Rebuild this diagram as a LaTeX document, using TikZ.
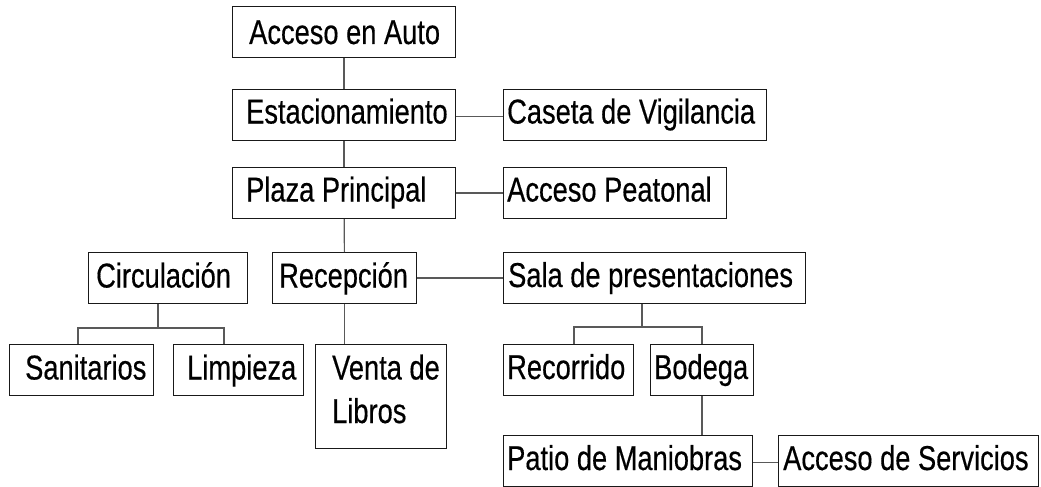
\documentclass[tikz,border=0pt]{standalone}
\usepackage{fontspec}
\setmainfont{Liberation Sans}[FakeStretch=0.79,FakeBold=0.4]
\usetikzlibrary{calc}
\tikzset{
  box/.style={draw=black!90, line width=1.1pt, rectangle, inner sep=0pt, anchor=north west},
  lbl/.style={inner sep=0pt, anchor=base west, font=\fontsize{34.5}{43.3}\selectfont, text=black},
  link/.style={draw=black!65, line width=1.2pt}
}
\begin{document}
\begin{tikzpicture}[x=1pt,y=-1pt]
\useasboundingbox (0,0) rectangle (1041,487);
% boxes
\node[box, minimum width=223pt, minimum height=51pt] (auto) at (232,6) {};
\node[box, minimum width=223pt, minimum height=51pt] (estac) at (232,89) {};
\node[box, minimum width=223pt, minimum height=51pt] (plaza) at (232,167) {};
\node[box, minimum width=263pt, minimum height=51pt] (caseta) at (503,89) {};
\node[box, minimum width=223pt, minimum height=51pt] (peatonal) at (503,167) {};
\node[box, minimum width=159pt, minimum height=51pt] (circ) at (88,252) {};
\node[box, minimum width=144pt, minimum height=51pt] (recep) at (272,252) {};
\node[box, minimum width=302pt, minimum height=51pt] (sala) at (503,252) {};
\node[box, minimum width=144pt, minimum height=51pt] (sanit) at (9,344) {};
\node[box, minimum width=130pt, minimum height=51pt] (limp) at (173,344) {};
\node[box, minimum width=131pt, minimum height=104pt] (venta) at (315,344) {};
\node[box, minimum width=130pt, minimum height=51pt] (recorr) at (503,344) {};
\node[box, minimum width=103pt, minimum height=51pt] (bodega) at (650,344) {};
\node[box, minimum width=249pt, minimum height=51pt] (patio) at (503,435) {};
\node[box, minimum width=260pt, minimum height=51pt] (servic) at (778,435) {};
% labels
\node[lbl] (tauto) at (249,44) {Acceso en Auto};
\node[lbl] (testac) at (246,123.5) {Estacionamiento};
\node[lbl] (tplaza) at (246,201.5) {Plaza Principal};
\node[lbl] (tcaseta) at (507,123.5) {Caseta de Vigilancia};
\node[lbl] (tpeatonal) at (507,201.5) {Acceso Peatonal};
\node[lbl] (tcirc) at (96,287.5) {Circulación};
\node[lbl] (trecep) at (279,287.5) {Recepción};
\node[lbl] (tsala) at (508,287) {Sala de presentaciones};
\node[lbl] (tsanit) at (25,379.5) {Sanitarios};
\node[lbl] (tlimp) at (187,379.5) {Limpieza};
\node[lbl] (tventa) at (332,379.5) {Venta de};
\node[lbl] (tventb) at (332,423) {Libros};
\node[lbl] (trecorr) at (507,379) {Recorrido};
\node[lbl] (tbodega) at (654,379) {Bodega};
\node[lbl] (tpatio) at (507,470) {Patio de Maniobras};
\node[lbl] (tservic) at (783,470) {Acceso de Servicios};
% junction points
\coordinate (cj) at (158,328);
\coordinate (c1) at (78,328);
\coordinate (c2) at (224,328);
\coordinate (sj) at (642,327);
\coordinate (s1) at (574,327);
\coordinate (s2) at (702,327);
% connectors
\draw[link] (auto) -- (estac);
\draw[link] (estac) -- (plaza);
\draw[link] (plaza) -- (recep);
\draw[link] (recep.south) -- (recep.south |- venta.north);
\draw[link] ($(estac.east)+(0,1.5)$) -- ($(caseta.west)+(0,1.5)$);
\draw[link] (plaza) -- (peatonal);
\draw[link] (recep) -- (sala);
\draw[link] (cj |- circ.south) -- (cj);
\draw[link] (c1 |- sanit.north) -- (c1) -- (c2) -- (c2 |- limp.north);
\draw[link] (sj |- sala.south) -- (sj);
\draw[link] (s1 |- recorr.north) -- (s1) -- (s2) -- (s2 |- bodega.north);
\draw[link] (s2 |- bodega.south) -- (s2 |- patio.north);
\draw[link] ($(patio.east)+(0,1.5)$) -- ($(servic.west)+(0,1.5)$);
\end{tikzpicture}
\end{document}
